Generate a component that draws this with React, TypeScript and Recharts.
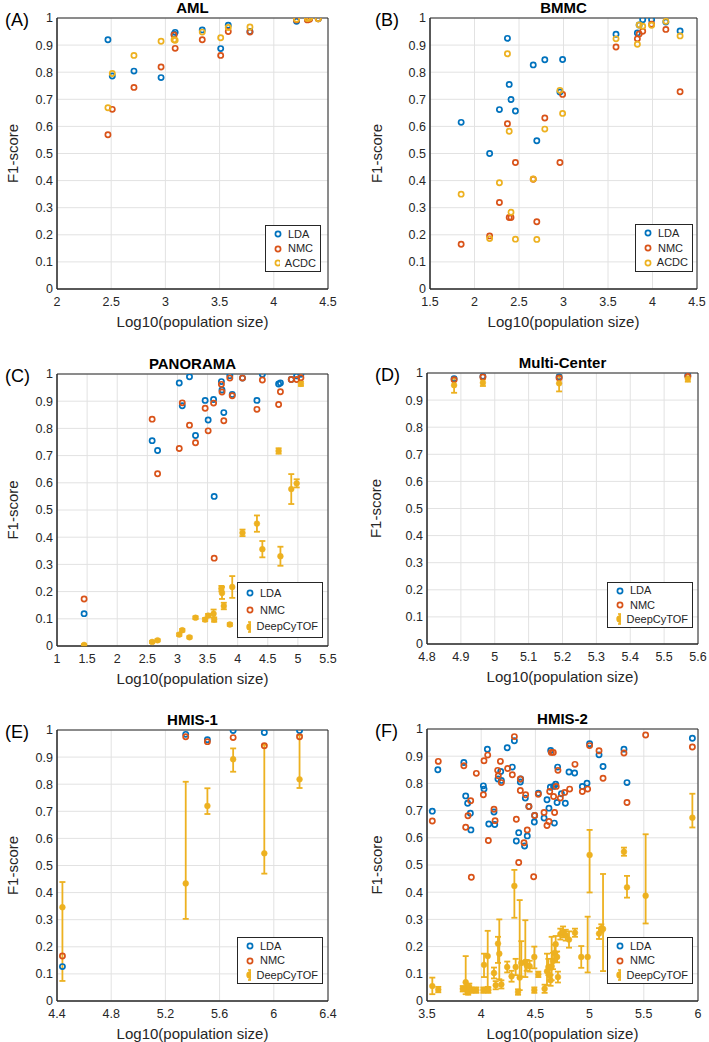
import React from 'react'
import { ScatterChart, Scatter, XAxis, YAxis, CartesianGrid, ErrorBar, ReferenceArea, Legend } from 'recharts'

const BLUE = '#0072BD'
const RED = '#D95319'
const YELLOW = '#EDB120'
const INK = '#262626'
const FONT = '"Liberation Sans", Arial, Helvetica, sans-serif'

const yTicks = [0, 0.1, 0.2, 0.3, 0.4, 0.5, 0.6, 0.7, 0.8, 0.9, 1]

// (A) AML
const amlX = [2.47, 2.51, 2.71, 2.96, 3.08, 3.09, 3.34, 3.51, 3.58, 3.78, 4.21, 4.31, 4.33, 4.41]
const amlLda = [0.92, 0.786, 0.804, 0.78, 0.94, 0.947, 0.956, 0.887, 0.973, 0.95, 0.988, 0.995, 0.998, 0.997]
const amlNmc = [0.569, 0.663, 0.744, 0.819, 0.937, 0.888, 0.92, 0.862, 0.95, 0.948, 0.993, 0.993, 0.995, 0.997]
const amlAcdc = [0.669, 0.795, 0.862, 0.914, 0.92, 0.918, 0.948, 0.927, 0.965, 0.967, 0.995, 0.998, 1.0, 0.997]

// (B) BMMC
const bmmcX = [1.85, 2.17, 2.28, 2.37, 2.39, 2.41, 2.46, 2.66, 2.7, 2.79, 2.96, 2.99, 3.59, 3.83, 3.85, 3.89, 3.99, 4.15, 4.31]
const bmmcLda = [0.615, 0.5, 0.662, 0.925, 0.755, 0.699, 0.657, 0.827, 0.547, 0.846, 0.727, 0.847, 0.94, 0.945, 0.974, 0.994, 0.994, 0.985, 0.952]
const bmmcNmc = [0.165, 0.196, 0.319, 0.61, 0.264, 0.264, 0.467, 0.405, 0.248, 0.631, 0.467, 0.718, 0.893, 0.923, 0.941, 0.951, 0.977, 0.958, 0.728]
const bmmcAcdc = [0.35, 0.186, 0.392, 0.868, 0.582, 0.283, 0.184, 0.406, 0.183, 0.59, 0.733, 0.648, 0.923, 0.903, 0.974, 0.97, 0.973, 0.988, 0.934]

// (C) PANORAMA
const panoX = [1.45, 2.58, 2.67, 3.03, 3.08, 3.2, 3.3, 3.46, 3.51, 3.6, 3.61, 3.73, 3.74, 3.77, 3.87, 3.91, 4.08, 4.32, 4.41, 4.68, 4.71, 4.89, 4.98, 5.05]
const panoLda = [0.119, 0.755, 0.719, 0.967, 0.883, 0.99, 0.774, 0.903, 0.831, 0.906, 0.55, 0.972, 0.941, 0.858, 0.994, 0.925, 0.985, 0.903, 0.999, 0.963, 0.967, 0.98, 0.993, 0.999]
const panoNmc = [0.173, 0.834, 0.633, 0.726, 0.894, 0.812, 0.747, 0.874, 0.791, 0.893, 0.323, 0.962, 0.934, 0.828, 0.985, 0.92, 0.985, 0.87, 0.978, 0.888, 0.935, 0.98, 0.98, 0.986]
const panoDeep = [0.004, 0.015, 0.021, 0.042, 0.058, 0.032, 0.104, 0.097, 0.112, 0.119, 0.097, 0.211, 0.195, 0.147, 0.079, 0.217, 0.416, 0.45, 0.356, 0.717, 0.33, 0.577, 0.598, 0.964]
const panoDeepErr = [0.003, 0.004, 0.004, 0.005, 0.005, 0.004, 0.005, 0.006, 0.006, 0.015, 0.008, 0.01, 0.022, 0.012, 0.005, 0.04, 0.012, 0.03, 0.03, 0.01, 0.035, 0.055, 0.015, 0.008]

// (D) Multi-Center
const mcX = [4.88, 4.965, 5.19, 5.57]
const mcLda = [0.979, 0.988, 0.985, 0.991]
const mcNmc = [0.975, 0.985, 0.982, 0.987]
const mcDeep = [0.955, 0.964, 0.962, 0.978]
const mcDeepErr = [0.028, 0.012, 0.03, 0.01]

// (E) HMIS-1
const h1X = [4.44, 5.35, 5.51, 5.7, 5.93, 6.19]
const h1Lda = [0.127, 0.984, 0.964, 0.998, 0.991, 0.998]
const h1Nmc = [0.166, 0.975, 0.957, 0.972, 0.942, 0.975]
const h1Deep = [0.346, 0.434, 0.72, 0.892, 0.545, 0.818]
const h1DeepLo = [0.272, 0.131, 0.03, 0.046, 0.075, 0.032]
const h1DeepHi = [0.093, 0.375, 0.065, 0.04, 0.4, 0.163]

// (F) HMIS-2
const h2LdaX = [3.549, 3.6, 3.84, 3.857, 3.875, 3.9, 3.905, 4.02, 4.026, 4.057, 4.07, 4.118, 4.125, 4.155, 4.18, 4.186, 4.24, 4.287, 4.306, 4.324, 4.346, 4.361, 4.364, 4.4, 4.407, 4.425, 4.44, 4.49, 4.493, 4.527, 4.58, 4.607, 4.625, 4.638, 4.641, 4.668, 4.675, 4.687, 4.7, 4.705, 4.74, 4.776, 4.81, 4.862, 4.933, 4.976, 5.0, 5.087, 5.124, 5.317, 5.345, 5.948]
const h2Lda = [0.698, 0.85, 0.877, 0.754, 0.727, 0.69, 0.629, 0.791, 0.779, 0.926, 0.651, 0.695, 0.649, 0.816, 0.844, 0.811, 0.931, 0.86, 0.957, 0.588, 0.619, 0.805, 0.816, 0.57, 0.746, 0.607, 0.715, 0.658, 0.682, 0.764, 0.673, 0.74, 0.709, 0.786, 0.921, 0.789, 0.654, 0.797, 0.73, 0.86, 0.762, 0.727, 0.842, 0.838, 0.789, 0.801, 0.946, 0.905, 0.862, 0.926, 0.803, 0.966]
const h2NmcX = [3.549, 3.604, 3.84, 3.857, 3.878, 3.903, 3.909, 3.955, 4.02, 4.026, 4.06, 4.066, 4.118, 4.128, 4.152, 4.158, 4.177, 4.186, 4.244, 4.287, 4.306, 4.324, 4.346, 4.361, 4.361, 4.395, 4.41, 4.425, 4.44, 4.484, 4.493, 4.527, 4.58, 4.607, 4.625, 4.632, 4.647, 4.665, 4.668, 4.677, 4.692, 4.708, 4.73, 4.77, 4.816, 4.865, 4.933, 4.982, 5.0, 5.087, 5.124, 5.317, 5.345, 5.517, 5.948]
const h2Nmc = [0.662, 0.881, 0.865, 0.639, 0.681, 0.736, 0.455, 0.837, 0.758, 0.883, 0.904, 0.59, 0.705, 0.663, 0.848, 0.828, 0.881, 0.803, 0.855, 0.832, 0.972, 0.668, 0.509, 0.816, 0.774, 0.582, 0.758, 0.629, 0.715, 0.457, 0.682, 0.76, 0.693, 0.645, 0.66, 0.77, 0.914, 0.914, 0.752, 0.693, 0.789, 0.848, 0.746, 0.767, 0.779, 0.87, 0.77, 0.779, 0.939, 0.92, 0.819, 0.912, 0.73, 0.978, 0.934]
const h2DeepX = [3.549, 3.604, 3.83, 3.857, 3.87, 3.88, 3.89, 3.91, 3.955, 4.02, 4.026, 4.06, 4.066, 4.118, 4.134, 4.155, 4.167, 4.186, 4.24, 4.28, 4.306, 4.318, 4.34, 4.355, 4.37, 4.407, 4.42, 4.447, 4.49, 4.49, 4.527, 4.585, 4.607, 4.62, 4.632, 4.64, 4.65, 4.662, 4.677, 4.687, 4.7, 4.708, 4.73, 4.755, 4.78, 4.81, 4.865, 4.923, 4.982, 5.0, 5.087, 5.108, 5.124, 5.317, 5.345, 5.517, 5.948]
const h2Deep = [0.055, 0.042, 0.045, 0.069, 0.045, 0.033, 0.052, 0.04, 0.04, 0.04, 0.133, 0.165, 0.04, 0.103, 0.058, 0.211, 0.174, 0.061, 0.125, 0.091, 0.423, 0.125, 0.033, 0.086, 0.14, 0.144, 0.131, 0.128, 0.162, 0.04, 0.098, 0.045, 0.109, 0.125, 0.095, 0.076, 0.128, 0.147, 0.177, 0.209, 0.162, 0.088, 0.246, 0.254, 0.242, 0.226, 0.251, 0.162, 0.162, 0.537, 0.248, 0.267, 0.265, 0.549, 0.418, 0.387, 0.674]
const h2DeepLo = [0.03, 0.01, 0.01, 0.044, 0.01, 0.01, 0.012, 0.01, 0.01, 0.01, 0.045, 0.113, 0.01, 0.02, 0.015, 0.071, 0.094, 0.015, 0.02, 0.02, 0.117, 0.03, 0.01, 0.046, 0.05, 0.056, 0.02, 0.02, 0.042, 0.01, 0.01, 0.015, 0.051, 0.03, 0.02, 0.02, 0.052, 0.03, 0.03, 0.03, 0.02, 0.02, 0.02, 0.02, 0.02, 0.03, 0.015, 0.04, 0.057, 0.138, 0.02, 0.015, 0.155, 0.015, 0.038, 0.102, 0.036]
const h2DeepHi = [0.031, 0.01, 0.01, 0.096, 0.01, 0.01, 0.012, 0.01, 0.01, 0.01, 0.041, 0.093, 0.01, 0.02, 0.015, 0.025, 0.126, 0.015, 0.02, 0.02, 0.059, 0.03, 0.01, 0.285, 0.08, 0.153, 0.02, 0.02, 0.038, 0.01, 0.01, 0.015, 0.065, 0.03, 0.02, 0.02, 0.108, 0.03, 0.03, 0.03, 0.02, 0.02, 0.02, 0.02, 0.02, 0.03, 0.015, 0.04, 0.148, 0.092, 0.02, 0.015, 0.202, 0.015, 0.042, 0.226, 0.088]

type Pt = { x: number; y: number; err?: number[] }
type Series = { name: string; color: string; kind: 'ring' | 'bar'; data: Pt[] }

const pts = (xs: number[], ys: number[]): Pt[] => xs.map((x, i) => ({ x, y: ys[i] }))
const errPts = (xs: number[], ys: number[], lo: number[], hi: number[]): Pt[] =>
  xs.map((x, i) => ({ x, y: ys[i], err: [lo[i], hi[i]] }))

const ring = (color: string) => (p: any) =>
  <circle cx={p.cx} cy={p.cy} r={2.6} fill="none" stroke={color} strokeWidth={1.7} />
const dot = (color: string) => (p: any) =>
  <circle cx={p.cx} cy={p.cy} r={2.9} fill={color} stroke={color} strokeWidth={0.5} />

function LegendBox({ series }: { series: Series[] }) {
  return (
    <div style={{
      width: '100%', height: '100%', boxSizing: 'border-box', background: '#fff',
      border: `1px solid ${INK}`, display: 'flex', flexDirection: 'column', justifyContent: 'space-evenly',
      padding: '0 4px 0 7px', fontFamily: FONT, fontSize: 11, color: INK,
    }}>
      {series.map(s => (
        <div key={s.name} style={{ display: 'flex', alignItems: 'center', lineHeight: '13px' }}>
          <svg width={10} height={12} style={{ marginRight: 5 }}>
            {s.kind === 'ring'
              ? <circle cx={5} cy={6} r={2.6} fill="none" stroke={s.color} strokeWidth={1.7} />
              : <g stroke={s.color} strokeWidth={1.6}>
                  <line x1={5} y1={1} x2={5} y2={11} />
                  <line x1={3} y1={1} x2={7} y2={1} />
                  <line x1={3} y1={11} x2={7} y2={11} />
                  <circle cx={5} cy={6} r={2.9} fill={s.color} />
                </g>}
          </svg>
          <span>{s.name}</span>
        </div>
      ))}
    </div>
  )
}

interface PanelProps {
  letter: string
  title: string
  left: number
  top: number
  w: number
  h: number
  xDomain: [number, number]
  xTicks: number[]
  series: Series[]
  legend: { x: number; y: number; w: number; h: number }
  yLabelX: number
}

const PAD_L = 72
const PAD_T = 30
const PAD_R = 12
const PAD_B = 45

function Panel({ letter, title, left, top, w, h, xDomain, xTicks, series, legend, yLabelX }: PanelProps) {
  const boxLeft = left - PAD_L
  const boxTop = top - PAD_T
  const tickStyle = { fontSize: 12.5, fill: INK, fontFamily: FONT }
  return (
    <>
      <div style={{ position: 'absolute', left: boxLeft, top: boxTop }}>
        <ScatterChart width={PAD_L + w + PAD_R} height={PAD_T + h + PAD_B}
          margin={{ top: PAD_T, right: PAD_R, bottom: 0, left: 0 }}>
          <CartesianGrid stroke="#e2e2e2" strokeWidth={1} />
          <XAxis type="number" dataKey="x" domain={xDomain} ticks={xTicks} interval={0}
            height={PAD_B} tickSize={0} tickMargin={8} tick={tickStyle}
            axisLine={{ stroke: INK }} allowDataOverflow
            label={{ value: 'Log10(population size)', position: 'insideBottom', offset: 7,
              style: { fontSize: 15, fill: INK, fontFamily: FONT } }} />
          <YAxis type="number" dataKey="y" domain={[0, 1]} ticks={yTicks} interval={0}
            width={PAD_L} tickSize={0} tickMargin={4} tick={tickStyle}
            axisLine={{ stroke: INK }} allowDataOverflow
            label={{ value: 'F1-score', angle: -90, position: 'insideLeft', offset: yLabelX - boxLeft,
              style: { fontSize: 15, fill: INK, fontFamily: FONT, textAnchor: 'middle' } }} />
          <ReferenceArea x1={xDomain[0]} x2={xDomain[1]} y1={0} y2={1}
            fill="none" fillOpacity={0} stroke={INK} strokeWidth={1} />
          {series.map(s => (
            <Scatter key={s.name} name={s.name} data={s.data} isAnimationActive={false}
              shape={s.kind === 'ring' ? ring(s.color) : dot(s.color)}>
              {s.kind === 'bar' &&
                <ErrorBar dataKey="err" direction="y" width={3} stroke={s.color} strokeWidth={1.8} />}
            </Scatter>
          ))}
          <Legend layout="vertical" align="center" verticalAlign="middle"
            wrapperStyle={{ left: legend.x - boxLeft, top: legend.y - boxTop, width: legend.w, height: legend.h }}
            content={() => <LegendBox series={series} />} />
        </ScatterChart>
      </div>
      <div style={{
        position: 'absolute', left: left, width: w, top: top - 19, lineHeight: '18px',
        textAlign: 'center', fontFamily: FONT, fontWeight: 'bold', fontSize: 15, color: '#000',
      }}>{title}</div>
      <div style={{
        position: 'absolute', left: left < 200 ? 5 : 375, top: top - 9, lineHeight: '22px',
        fontFamily: FONT, fontSize: 18, color: '#000',
      }}>{letter}</div>
    </>
  )
}

export default function App() {
  return (
    <div style={{ position: 'absolute', left: 0, top: 0, width: 709, height: 1042, background: '#fff', overflow: 'hidden' }}>
      <Panel letter="(A)" title="AML" left={57} top={18} w={271} h={271}
        xDomain={[2, 4.5]} xTicks={[2, 2.5, 3, 3.5, 4, 4.5]} yLabelX={13}
        legend={{ x: 265, y: 225, w: 56, h: 47 }}
        series={[
          { name: 'LDA', color: BLUE, kind: 'ring', data: pts(amlX, amlLda) },
          { name: 'NMC', color: RED, kind: 'ring', data: pts(amlX, amlNmc) },
          { name: 'ACDC', color: YELLOW, kind: 'ring', data: pts(amlX, amlAcdc) },
        ]} />
      <Panel letter="(B)" title="BMMC" left={430} top={18} w={267} h={271}
        xDomain={[1.5, 4.5]} xTicks={[1.5, 2, 2.5, 3, 3.5, 4, 4.5]} yLabelX={377}
        legend={{ x: 635, y: 224, w: 58, h: 48 }}
        series={[
          { name: 'LDA', color: BLUE, kind: 'ring', data: pts(bmmcX, bmmcLda) },
          { name: 'NMC', color: RED, kind: 'ring', data: pts(bmmcX, bmmcNmc) },
          { name: 'ACDC', color: YELLOW, kind: 'ring', data: pts(bmmcX, bmmcAcdc) },
        ]} />
      <Panel letter="(C)" title="PANORAMA" left={57} top={374} w={271} h={272}
        xDomain={[1, 5.5]} xTicks={[1, 1.5, 2, 2.5, 3, 3.5, 4, 4.5, 5, 5.5]} yLabelX={13}
        legend={{ x: 237, y: 582, w: 86, h: 56 }}
        series={[
          { name: 'LDA', color: BLUE, kind: 'ring', data: pts(panoX, panoLda) },
          { name: 'NMC', color: RED, kind: 'ring', data: pts(panoX, panoNmc) },
          { name: 'DeepCyTOF', color: YELLOW, kind: 'bar', data: errPts(panoX, panoDeep, panoDeepErr, panoDeepErr) },
        ]} />
      <Panel letter="(D)" title="Multi-Center" left={427} top={373} w={271} h={271}
        xDomain={[4.8, 5.6]} xTicks={[4.8, 4.9, 5, 5.1, 5.2, 5.3, 5.4, 5.5, 5.6]} yLabelX={376}
        legend={{ x: 607, y: 582, w: 86, h: 46 }}
        series={[
          { name: 'LDA', color: BLUE, kind: 'ring', data: pts(mcX, mcLda) },
          { name: 'NMC', color: RED, kind: 'ring', data: pts(mcX, mcNmc) },
          { name: 'DeepCyTOF', color: YELLOW, kind: 'bar', data: errPts(mcX, mcDeep, mcDeepErr, mcDeepErr) },
        ]} />
      <Panel letter="(E)" title="HMIS-1" left={57} top={730} w={271} h={271}
        xDomain={[4.4, 6.4]} xTicks={[4.4, 4.8, 5.2, 5.6, 6, 6.4]} yLabelX={13}
        legend={{ x: 237, y: 937, w: 86, h: 47 }}
        series={[
          { name: 'LDA', color: BLUE, kind: 'ring', data: pts(h1X, h1Lda) },
          { name: 'NMC', color: RED, kind: 'ring', data: pts(h1X, h1Nmc) },
          { name: 'DeepCyTOF', color: YELLOW, kind: 'bar', data: errPts(h1X, h1Deep, h1DeepLo, h1DeepHi) },
        ]} />
      <Panel letter="(F)" title="HMIS-2" left={427} top={729} w={271} h={272}
        xDomain={[3.5, 6]} xTicks={[3.5, 4, 4.5, 5, 5.5, 6]} yLabelX={377}
        legend={{ x: 607, y: 937, w: 86, h: 47 }}
        series={[
          { name: 'LDA', color: BLUE, kind: 'ring', data: pts(h2LdaX, h2Lda) },
          { name: 'NMC', color: RED, kind: 'ring', data: pts(h2NmcX, h2Nmc) },
          { name: 'DeepCyTOF', color: YELLOW, kind: 'bar', data: errPts(h2DeepX, h2Deep, h2DeepLo, h2DeepHi) },
        ]} />
    </div>
  )
}
